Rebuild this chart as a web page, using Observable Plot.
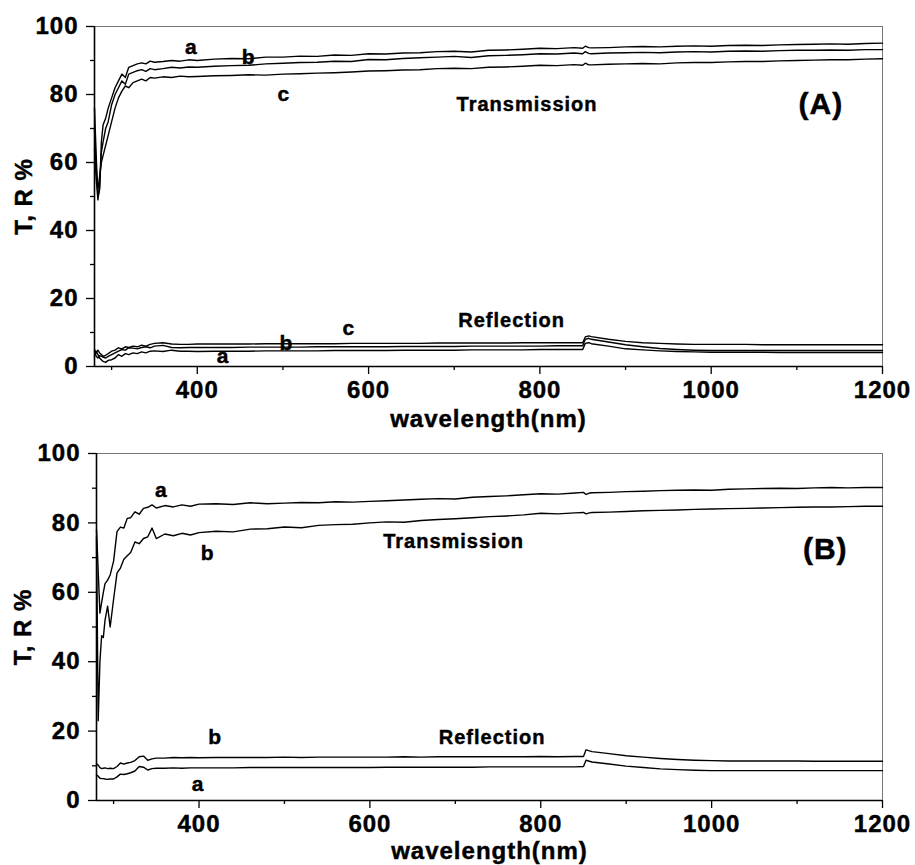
<!DOCTYPE html>
<html>
<head>
<meta charset="utf-8">
<script src="https://cdn.jsdelivr.net/npm/d3@7"></script>
<script src="https://cdn.jsdelivr.net/npm/@observablehq/plot@0.6"></script>
<style>
  html, body { margin: 0; padding: 0; background: #fff; }
  svg { display: block; overflow: visible; }
  svg text { stroke: black; stroke-width: 0.45px; }
</style>
</head>
<body>
<div id="chart"></div>
<script>
// ---------- data ----------
const wavelength = [280,282,284,286,288,290,293,296,300,304,308,312,316,320,325,330,335,340,345,350,
  360,370,380,390,400,420,440,460,480,500,520,540,560,580,600,620,640,660,680,700,720,740,760,780,800,820,840,
  850,853,857,860,880,900,920,940,960,980,1000,1020,1040,1060,1080,1100,1120,1140,1160,1180,1200];

// Panel A – Transmission
const A_T_a = [76,62,50,52,66,71,73,76,79,82,84,86,85,88,88.5,89,89.3,89,89.8,89.5,
  89.7,90.0,89.8,90.2,90.0,90.4,90.6,90.5,91.0,91.0,91.3,91.2,91.6,91.5,92.0,91.9,92.2,92.3,92.6,92.7,92.5,93.0,93.1,93.3,93.6,93.5,93.8,
  93.6,94.2,93.8,93.7,93.8,94.0,94.1,94.0,94.2,94.3,94.2,94.4,94.5,94.4,94.6,94.7,94.8,94.9,94.8,95.0,95.1];
const A_T_b = [64,55,49,53,63,66,70,72,77,80,82,84,83,86,86.5,87,87.3,86.8,87.6,87.3,
  87.6,88.0,87.8,88.1,88.0,88.3,88.5,88.6,89.0,89.2,89.4,89.5,89.8,89.7,90.3,90.2,90.6,90.8,91.0,91.2,90.9,91.4,91.5,91.7,92.0,91.9,92.2,
  92.0,92.6,92.1,92.0,92.2,92.3,92.4,92.3,92.5,92.6,92.5,92.7,92.8,92.7,92.9,93.0,93.0,93.1,93.0,93.2,93.2];
const A_T_c = [70,58,52,56,60,62,65,68,72,76,79,81,82.5,82.0,83.5,84.0,84.5,84.0,85.0,84.8,
  85.2,85.0,85.4,85.2,85.3,85.5,85.6,85.8,85.7,86.0,86.1,86.3,86.4,86.6,86.9,87.0,87.2,87.3,87.6,87.7,87.6,88.0,88.1,88.3,88.6,88.5,88.8,
  88.6,89.2,88.7,88.7,88.9,89.0,89.1,89.0,89.3,89.4,89.4,89.6,89.7,89.7,89.9,90.0,90.1,90.2,90.2,90.4,90.5];
// Panel A – Reflection
const A_R_a = [3.0,4.5,3.5,2.5,2.0,1.5,1.2,1.8,2.0,2.5,3.5,3.0,3.8,3.5,4.0,3.8,4.3,4.0,4.5,4.6,
  4.4,4.8,4.5,4.5,4.4,4.5,4.5,4.5,4.6,4.6,4.6,4.6,4.7,4.7,4.7,4.7,4.8,4.8,4.8,4.8,4.9,4.9,4.9,4.9,5.0,5.0,5.0,
  5.0,6.8,7.0,6.7,6.0,5.2,4.9,4.6,4.4,4.3,4.2,4.2,4.2,4.2,4.1,4.1,4.1,4.1,4.1,4.1,4.1];
const A_R_b = [4.5,3.0,2.5,3.2,3.0,2.8,2.5,3.0,3.5,4.0,4.5,5.0,4.8,5.5,5.4,5.2,5.6,5.8,5.5,6.0,
  6.2,5.6,5.5,5.6,5.6,5.6,5.6,5.7,5.7,5.7,5.7,5.8,5.8,5.8,5.8,5.8,5.9,5.9,5.9,5.9,6.0,6.0,6.0,6.0,6.0,6.1,6.1,
  6.1,8.0,8.3,8.0,7.2,6.4,5.8,5.3,5.0,4.8,4.7,4.7,4.7,4.7,4.7,4.7,4.7,4.7,4.7,4.7,4.7];
const A_R_c = [5.0,4.0,4.8,4.0,3.5,3.0,3.3,3.8,4.5,4.8,5.5,5.2,5.8,5.6,6.0,5.8,6.3,6.0,6.5,6.8,
  7.0,6.6,6.5,6.5,6.6,6.6,6.6,6.6,6.7,6.7,6.7,6.7,6.7,6.8,6.8,6.8,6.8,6.8,6.9,6.9,6.9,6.9,6.9,7.0,7.0,7.0,7.0,
  7.0,8.7,9.0,8.8,8.0,7.4,7.0,6.8,6.6,6.5,6.5,6.5,6.5,6.4,6.4,6.4,6.4,6.4,6.4,6.4,6.4];

// Panel B – Transmission
const B_T_a = [78,66,54,57,60,62.5,63.5,65,69,77.5,78.8,78.5,81.3,81.5,83.2,82.5,84.2,84.5,85.2,84.3,
  85.0,84.6,85.2,84.8,85.4,85.5,85.3,85.8,85.5,85.7,85.9,85.8,86.1,86.0,86.2,86.4,86.6,86.8,87.0,86.9,87.4,87.6,87.8,88.1,88.4,88.3,88.6,
  88.8,88.2,88.6,88.7,88.8,89.0,89.1,89.3,89.4,89.5,89.4,89.7,89.8,89.9,90.0,89.9,90.1,90.2,90.1,90.2,90.2];
const B_T_b = [76,23,40,47.5,47,52,56,50,58,65.5,67,69.5,70.5,71.5,74.5,74.0,75.5,76.0,78.5,75.5,
  76.8,76.3,77.0,76.5,77.2,77.6,77.4,78.2,78.3,78.8,78.6,79.3,79.5,79.6,80.0,80.3,80.2,80.7,81.0,81.2,81.5,81.8,82.0,82.3,82.8,82.6,82.9,
  83.0,82.6,82.9,83.0,83.1,83.3,83.5,83.6,83.7,83.9,84.0,84.1,84.2,84.3,84.4,84.5,84.6,84.6,84.7,84.8,84.8];
// Panel B – Reflection
const B_R_a = [7.3,7.0,6.4,6.3,6.3,6.2,6.1,6.2,6.2,6.8,7.6,7.5,7.7,8.0,8.5,9.8,9.6,8.8,9.2,9.3,
  9.3,9.4,9.3,9.4,9.4,9.4,9.4,9.5,9.5,9.5,9.5,9.5,9.5,9.5,9.5,9.6,9.6,9.6,9.6,9.6,9.6,9.7,9.7,9.7,9.7,9.7,9.7,
  9.8,11.6,11.3,11.1,10.5,9.9,9.5,9.1,8.9,8.7,8.6,8.6,8.6,8.6,8.6,8.6,8.6,8.6,8.6,8.6,8.6];
const B_R_b = [10.6,10.2,9.5,9.2,9.3,9.4,9.2,9.3,9.2,9.8,10.8,10.5,10.8,11.0,11.5,12.6,12.8,11.6,12.0,12.2,
  12.2,12.4,12.3,12.4,12.3,12.4,12.4,12.4,12.4,12.5,12.4,12.5,12.5,12.5,12.5,12.5,12.6,12.5,12.6,12.6,12.6,12.6,12.6,12.6,12.7,12.6,12.7,
  12.7,14.6,14.3,14.1,13.5,12.9,12.5,12.1,11.8,11.6,11.5,11.4,11.4,11.4,11.4,11.4,11.3,11.3,11.3,11.3,11.3];

// ticks
const xTicks = [400, 600, 800, 1000, 1200];
const xMinor = [300, 500, 700, 900, 1100];
const yTicks = [0, 20, 40, 60, 80, 100];
const yMinor = [10, 30, 50, 70, 90];

// annotations
const labelsA = [
  {t: "a", x: 393, y: 93.8, size: 21},
  {t: "b", x: 460, y: 90.9, size: 21},
  {t: "c", x: 501, y: 80.0, size: 21},
  {t: "Transmission", x: 785, y: 76.9, size: 20},
  {t: "(A)", x: 1128, y: 77.0, size: 30},
  {t: "Reflection", x: 767, y: 13.5, size: 20},
  {t: "a", x: 430, y: 2.9, size: 21},
  {t: "b", x: 504, y: 6.7, size: 21},
  {t: "c", x: 577, y: 11.1, size: 21}
];
const labelsB = [
  {t: "a", x: 356, y: 89.4, size: 21},
  {t: "b", x: 410, y: 71.2, size: 21},
  {t: "Transmission", x: 698, y: 74.7, size: 20},
  {t: "(B)", x: 1133, y: 72.4, size: 30},
  {t: "Reflection", x: 743, y: 18.0, size: 20},
  {t: "b", x: 419, y: 18.2, size: 21},
  {t: "a", x: 399, y: 4.6, size: 21}
];

function rows(seriesMap) {
  const out = [];
  for (const [name, arr] of Object.entries(seriesMap)) {
    arr.forEach((v, i) => out.push({w: wavelength[i], v, s: name}));
  }
  return out;
}

const FONT = "'Liberation Sans', Arial, Helvetica, sans-serif";

function panel({data, labels, height, marginTop, marginBottom, marginLeft, yLabelDx, xLabelDy}) {
  return Plot.plot({
    width: 915,
    height,
    marginLeft,
    marginRight: 33,
    marginTop,
    marginBottom,
    x: {domain: [280, 1200], label: null},
    y: {domain: [0, 100], label: null},
    style: {fontFamily: FONT, fontWeight: "bold", color: "black", background: "white", overflow: "visible", letterSpacing: "1px"},
    marks: [
      Plot.frame({stroke: "#777", strokeWidth: 1}),
      Plot.axisY(yTicks, {tickSize: 8, tickPadding: 8, fontSize: 24, fontWeight: "bold", label: null, tickFormat: d => String(d), strokeWidth: 1.3, stroke: "black"}),
      Plot.axisY(yMinor, {tickSize: 4, tickFormat: () => "", label: null, strokeWidth: 1.3, stroke: "black"}),
      Plot.axisX(xTicks, {tickSize: 8, tickPadding: 6, fontSize: 24, fontWeight: "bold", label: null, tickFormat: d => String(d), strokeWidth: 1.3, stroke: "black"}),
      Plot.axisX(xMinor, {tickSize: 4, tickFormat: () => "", label: null, strokeWidth: 1.3, stroke: "black"}),
      Plot.ruleX([280], {stroke: "black", strokeWidth: 1.6}),
      Plot.ruleY([0], {stroke: "black", strokeWidth: 1.6}),
      Plot.line(data, {x: "w", y: "v", z: "s", stroke: "black", strokeWidth: 1.4}),
      Plot.text(labels, {x: "x", y: "y", text: "t", fontSize: d => d.size, fontWeight: "bold", fill: "black"}),
      Plot.text(["T, R %"], {frameAnchor: "left", textAnchor: "middle", lineAnchor: "middle", dx: yLabelDx, rotate: -90, fontSize: 24, fontWeight: "bold", fill: "black"}),
      Plot.text(["wavelength(nm)"], {frameAnchor: "bottom", textAnchor: "middle", lineAnchor: "middle", dy: xLabelDy, fontSize: 24, fontWeight: "bold", fill: "black"})
    ]
  });
}

const panelA = panel({
  data: rows({a: A_T_a, b: A_T_b, c: A_T_c, ra: A_R_a, rb: A_R_b, rc: A_R_c}),
  labels: labelsA, height: 440, marginTop: 26, marginBottom: 74, marginLeft: 94, yLabelDx: -70, xLabelDy: 53
});
const panelB = panel({
  data: rows({a: B_T_a, b: B_T_b, ra: B_R_a, rb: B_R_b}),
  labels: labelsB, height: 425, marginTop: 13, marginBottom: 65, marginLeft: 96, yLabelDx: -73, xLabelDy: 51
});
document.getElementById("chart").append(panelA, panelB);
</script>
</body>
</html>
